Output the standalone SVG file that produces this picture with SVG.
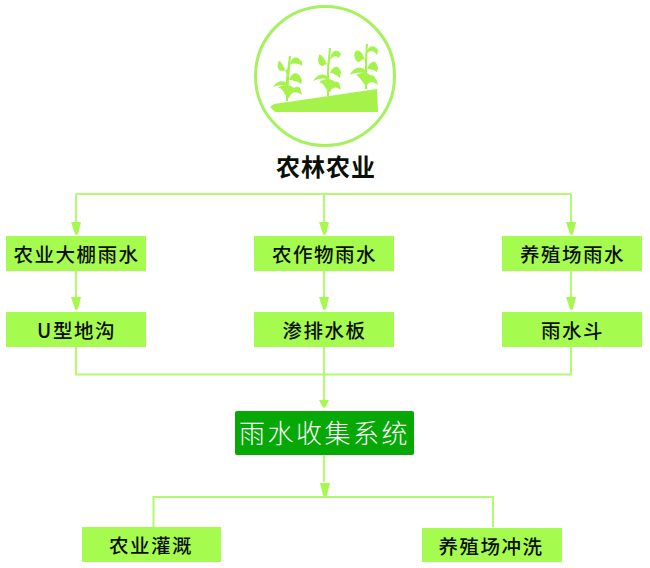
<svg xmlns="http://www.w3.org/2000/svg" width="650" height="568" viewBox="0 0 650 568">
<defs>
<marker id="ah" markerUnits="userSpaceOnUse" markerWidth="10" markerHeight="14" refX="4.5" refY="13" orient="auto-start-reverse" viewBox="0 0 9 14"><path d="M0 0L9 0L6 7L4.5 13L3 7Z" fill="#a6f850" transform="rotate(0)"/></marker>
</defs>
<style>
.box{fill:#a6fb4f}
.c{fill:none;stroke:#b2fa70;stroke-width:2}
.h{fill:#a6f850;stroke:none}
text{font-family:"Noto Sans CJK SC","Liberation Sans",sans-serif;text-anchor:middle;font-weight:500;fill:#0a0f08}
.t{font-size:19.5px;letter-spacing:1.5px}
.plant{fill:#a4f24a}
</style>
<rect width="650" height="568" fill="#fff"/>
<g id="connectors">
<path class="c" d="M76 194H571M76 194V225M324 194V225M571 194V225"/>
<path class="c" d="M76 271V302M324 271V302M571 271V302"/>
<path class="c" d="M76 347V374.500H571V347M324 347V400"/>
<path class="c" d="M324 453V482"/>
<path class="c" d="M153 561M153.500 527V497H493V527"/>
<path class="h" d="M71 222H81L78 234L76.500 235L75 234Z"/>
<path class="h" d="M319 222H329L326 234L324.500 235L323 234Z"/>
<path class="h" d="M566 222H576L573 234L571.500 235L570 234Z"/>
<path class="h" d="M71 297H81L78 309L76.500 310L75 309Z"/>
<path class="h" d="M319 297H329L326 309L324.500 310L323 309Z"/>
<path class="h" d="M566 297H576L573 309L571.500 310L570 309Z"/>
<path class="h" d="M319 400H329L326 406L324 408L322 406Z"/>
<path class="h" d="M320 483H330L327 495L325 497L323 495Z"/>
</g>
<g id="hero">
<circle cx="325" cy="76" r="69.500" fill="#fff" stroke="#a6f160" stroke-width="3"/>
<path class="plant" d="M270 107L274 104L377 89L378 112L275 112Z"/>
<g id="p1">
<path class="plant" d="M286 101L286 79L289 56L291 56L289 79L288 101Z"/>
<path class="plant" d="M288 77C282 60 278 60 279 61C276 66 278 71 283 71L288 69M290 65C292 55 298 56 302 62L302 66C298 63 293 63 290 65M287 83C281 79 276 82 273 87C278 85 284 85 287 85M289 80C292 72 298 70 302 80L301 84C297 81 293 80 289 80M287 98C284 92 281 87 278 88C282 84 290 84 294 88C300 84 301 90 302 95C298 92 292 90 289 98Z"/>
</g>
<g id="p2">
<path class="plant" d="M327 96L327 70L329 48L331 48L329 70L329 96Z"/>
<path class="plant" d="M328 66C322 53 319 54 319 56C317 61 319 66 323 66L328 63M330 60C331 50 337 48 341 54L339 58C336 55 333 56 330 60M328 77C322 72 317 75 313 81C318 78 324 78 328 79M330 73C333 66 338 64 341 72L340 78C337 75 333 73 330 73M328 92C325 86 322 82 319 83C323 78 331 78 335 82C339 80 340 86 341 90C337 87 333 86 330 92Z"/>
</g>
<g id="p3">
<path class="plant" d="M365 89L365 60L366 44L368 44L367 60L367 89Z"/>
<path class="plant" d="M365 60C362 50 357 49 355 52C353 57 356 62 359 62L365 58M367 53C367 47 373 43 378 50L377 55C374 50 370 50 367 53M365 70C360 65 353 68 350 75C355 72 361 73 365 73M367 69C370 61 376 58 378 68L377 72C373 69 370 69 367 69M365 85C361 80 358 75 356 76C360 72 367 72 370 75C375 75 377 80 378 85C374 82 371 80 367 85Z"/>
</g>
</g>
<g id="title"><text x="326" y="176" style="font-size:24px;font-weight:700;letter-spacing:1px">农林农业</text></g>
<g id="n1"><rect class="box" x="6" y="236" width="140" height="35"/><text class="t" x="76.500" y="262">农业大棚雨水</text></g>
<g id="n2"><rect class="box" x="254" y="236" width="140" height="35"/><text class="t" x="324.500" y="262">农作物雨水</text></g>
<g id="n3"><rect class="box" x="502" y="236" width="140" height="35"/><text class="t" x="572.500" y="262">养殖场雨水</text></g>
<g id="n4"><rect class="box" x="6" y="312" width="140" height="35"/><text class="t" x="76.500" y="338">U型地沟</text></g>
<g id="n5"><rect class="box" x="254" y="312" width="140" height="35"/><text class="t" x="324.500" y="338">渗排水板</text></g>
<g id="n6"><rect class="box" x="502" y="312" width="140" height="35"/><text class="t" x="572.500" y="338">雨水斗</text></g>
<g id="n7"><rect x="235" y="411" width="179" height="44" rx="2" fill="#06a806"/><text x="324.500" y="443" style="font-size:26px;font-weight:300;fill:#fff;letter-spacing:2.500px">雨水收集系统</text></g>
<g id="n8"><rect class="box" x="82" y="527" width="139" height="35"/><text class="t" x="151" y="553">农业灌溉</text></g>
<g id="n9"><rect class="box" x="422" y="528" width="140" height="34"/><text class="t" x="491" y="554">养殖场冲洗</text></g>
</svg>
